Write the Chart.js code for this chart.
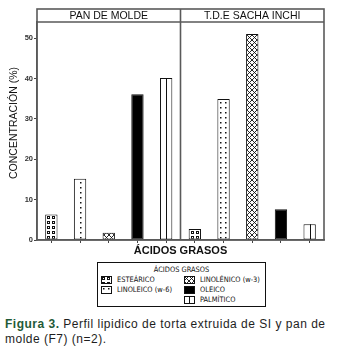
<!DOCTYPE html>
<html>
<head>
<meta charset="utf-8">
<script src="https://cdn.jsdelivr.net/npm/chart.js@4"></script>
<style>
  html, body { margin: 0; padding: 0; background: #fff; }
  body { width: 340px; height: 357px; position: relative; overflow: hidden; font-family: "Liberation Sans", Arial, sans-serif; }
  #wrap { position: absolute; left: 0; top: 0; width: 340px; height: 260px; }
  #legend { position: absolute; left: 97px; top: 262px; width: 169px; height: 45px; border: 1px solid #111; box-sizing: border-box;
            font-family: "DejaVu Sans Condensed", "Liberation Sans Narrow", Arial, sans-serif; font-size: 7.4px; color: #111; }
  #legend .title { position: absolute; left: 0; width: 100%; top: 2px; text-align: center; white-space: nowrap; }
  #legend canvas { position: absolute; }
  #legend span { position: absolute; white-space: nowrap; line-height: 9px; }
  #caption { position: absolute; left: 5px; top: 317px; width: 335px; font-size: 12px; letter-spacing: 0.5px; line-height: 15px; color: #1e1e1e; }
  #caption b { color: #1f5a38; }
</style>
</head>
<body>
<div id="wrap"><canvas id="c"></canvas></div>
<div id="legend"><div class="title">ÁCIDOS GRASOS</div></div>
<div id="caption"><b>Figura 3.</b> Perfil lipidico de torta extruida de SI y pan de molde (F7) (n=2).</div>
<script>
// ---- data ----
const panels = ['PAN DE MOLDE', 'T.D.E SACHA INCHI'];
const acids = ['ESTEÁRICO', 'LINOLEICO (w-6)', 'LINOLÉNICO (w-3)', 'OLEICO', 'PALMÍTICO'];
const panDeMolde = [6.3, 15.2, 1.8, 36.1, 40.1];
const sachaInchi = [2.7, 34.9, 51.0, 7.6, 3.9];
const yTicks = [0, 10, 20, 30, 40, 50];
const yMax = 54;

// ---- patterns ----
function tile(w, h, draw) {
  const c = document.createElement('canvas');
  c.width = w; c.height = h;
  const g = c.getContext('2d');
  g.fillStyle = '#fff'; g.fillRect(0, 0, w, h);
  g.fillStyle = '#111'; g.strokeStyle = '#111';
  draw(g);
  return c;
}
function makePattern(kind, variant) {
  const ctx = document.createElement('canvas').getContext('2d');
  let t;
  if (kind === 0) { // estearico: small hollow squares
    t = tile(5, 5, g => { g.fillRect(1, 1, 3, 3); g.fillStyle = '#fff'; g.fillRect(2, 2, 1, 1); });
  } else if (kind === 1) { // linoleico: dots
    if (variant === 0) t = tile(12, 5, g => { g.fillRect(5, 2, 1.5, 1.5); });
    else t = tile(5, 5, g => { g.fillRect(2, 2, 1.5, 1.5); });
  } else if (kind === 2) { // linolenico: crosshatch
    t = tile(5, 5, g => {
      g.lineWidth = 0.9;
      g.beginPath(); g.moveTo(0, 0); g.lineTo(5, 5); g.moveTo(5, 0); g.lineTo(0, 5);
      g.moveTo(-1, 4); g.lineTo(1, 6); g.moveTo(4, -1); g.lineTo(6, 1);
      g.moveTo(-1, 1); g.lineTo(1, -1); g.moveTo(4, 6); g.lineTo(6, 4);
      g.stroke();
    });
  } else if (kind === 3) {
    return '#000';
  } else {
    return '#fff';
  }
  return ctx.createPattern(t, 'repeat');
}

const labels = [];
const values = [];
const bgs = [];
[panDeMolde, sachaInchi].forEach((arr, p) => {
  arr.forEach((v, i) => {
    labels.push(panels[p] + ' – ' + acids[i]);
    values.push(v);
    bgs.push(makePattern(i, p));
  });
});

const framePlugin = {
  id: 'frame',
  beforeDatasetsDraw(chart) {
    const meta = chart.getDatasetMeta(0);
    meta.data.forEach(bar => {
      const bg = bar.options.backgroundColor;
      if (bg && typeof bg === 'object' && bg.setTransform) {
        const left = Math.round(bar.x - bar.width / 2) + 1;
        bg.setTransform(new DOMMatrix([1, 0, 0, 1, left, Math.round(bar.base)]));
      }
    });
  },
  afterDatasetsDraw(chart) {
    const ctx = chart.ctx;
    const meta = chart.getDatasetMeta(0);
    ctx.save();
    ctx.strokeStyle = '#111';
    ctx.lineWidth = 1;
    meta.data.forEach((bar, idx) => {
      if (idx % acids.length === 4) {
        const x = Math.round(bar.x) + 0.5;
        ctx.beginPath(); ctx.moveTo(x, bar.y); ctx.lineTo(x, bar.base); ctx.stroke();
      }
    });
    ctx.restore();
  },
  afterDraw(chart) {
    const { ctx, chartArea: a } = chart;
    const x = chart.scales.x;
    const top = 9;
    ctx.save();
    ctx.strokeStyle = '#5a5a5a';
    ctx.lineWidth = 1.6;
    ctx.strokeRect(a.left, top, a.right - a.left, a.bottom - top);
    ctx.beginPath();
    ctx.moveTo(a.left, a.top); ctx.lineTo(a.right, a.top);
    const mid = (x.getPixelForValue(acids.length - 1) + x.getPixelForValue(acids.length)) / 2;
    ctx.moveTo(mid, top); ctx.lineTo(mid, a.bottom);
    ctx.stroke();
    // panel headers
    ctx.fillStyle = '#111';
    ctx.font = '10.5px "Liberation Sans", Arial, sans-serif';
    ctx.textAlign = 'center';
    ctx.textBaseline = 'middle';
    ctx.fillText(panels[0], (a.left + mid) / 2, (top + a.top) / 2 + 0.5);
    ctx.fillText(panels[1], (mid + a.right) / 2, (top + a.top) / 2 + 0.5);
    // y title
    ctx.translate(14, 123);
    ctx.rotate(-Math.PI / 2);
    ctx.font = '10.5px "Liberation Sans", Arial, sans-serif';
    ctx.fillText('CONCENTRACIÓN (%)', 0, 0);
    ctx.restore();
  }
};

new Chart(document.getElementById('c'), {
  type: 'bar',
  data: {
    labels: labels,
    datasets: [{
      data: values,
      backgroundColor: bgs,
      borderColor: '#111',
      borderWidth: 1,
      borderSkipped: false,
      barPercentage: 0.43,
      categoryPercentage: 1
    }]
  },
  options: {
    responsive: true,
    maintainAspectRatio: false,
    animation: false,
    devicePixelRatio: 1,
    layout: { padding: { left: 0, right: 16, top: 22, bottom: 0 } },
    plugins: { legend: { display: false }, tooltip: { enabled: false } },
    scales: {
      x: {
        ticks: { display: false },
        grid: { display: true, drawOnChartArea: false, drawTicks: true, tickLength: 3, color: '#444', offset: false },
        border: { display: true, color: '#5a5a5a', width: 1.6 },
        title: { display: true, text: 'ÁCIDOS GRASOS', color: '#111', font: { family: '"Liberation Sans", Arial, sans-serif', size: 11, weight: 'bold' }, padding: { top: 0, bottom: 2 } },
        afterFit(s) { s.height = 20; }
      },
      y: {
        min: 0, max: yMax,
        afterBuildTicks(s) { s.ticks = yTicks.map(v => ({ value: v })); },
        ticks: { color: '#333', padding: 1, font: { family: '"Liberation Sans", Arial, sans-serif', size: 7.5, weight: 'bold' } },
        grid: { display: true, drawOnChartArea: false, drawTicks: true, tickLength: 3, color: '#444' },
        border: { display: true, color: '#5a5a5a', width: 1.6 },
        afterFit(s) { s.width = 37; }
      }
    }
  },
  plugins: [framePlugin]
});

// ---- HTML legend ----
const legend = document.getElementById('legend');
const pos = [
  { x: 3, y: 12 }, { x: 3, y: 22 }, { x: 86, y: 12 }, { x: 86, y: 22 }, { x: 86, y: 32 }
];
acids.forEach((name, i) => {
  const sw = document.createElement('canvas');
  sw.width = 11; sw.height = 8;
  sw.style.left = pos[i].x + 'px'; sw.style.top = (pos[i].y + 1) + 'px';
  const g = sw.getContext('2d');
  const p = makePattern(i, 1);
  g.fillStyle = p; g.fillRect(0, 0, 11, 8);
  g.strokeStyle = '#111'; g.lineWidth = 1; g.strokeRect(0.5, 0.5, 10, 7);
  if (i === 4) { g.beginPath(); g.moveTo(5.5, 0); g.lineTo(5.5, 8); g.stroke(); }
  legend.appendChild(sw);
  const t = document.createElement('span');
  t.textContent = name;
  t.style.left = (pos[i].x + 16) + 'px'; t.style.top = pos[i].y + 'px';
  legend.appendChild(t);
});
</script>
</body>
</html>
